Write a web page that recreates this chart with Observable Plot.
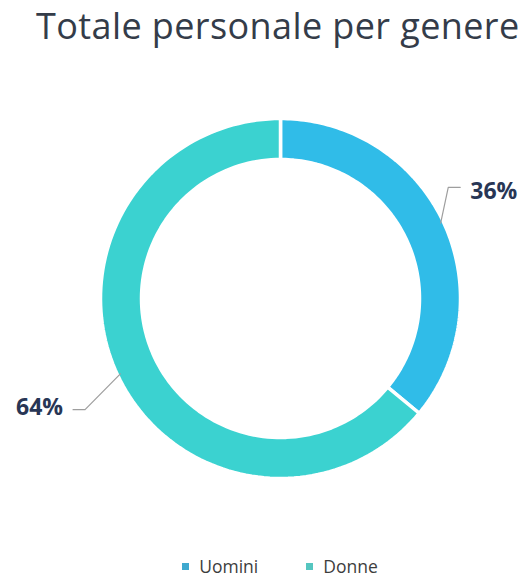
<!DOCTYPE html>
<html><head><meta charset="utf-8">
<script src="https://cdn.jsdelivr.net/npm/d3@7"></script>
<script src="https://cdn.jsdelivr.net/npm/@observablehq/plot@0.6"></script>
<style>
body{margin:0;background:#fff;width:528px;height:585px;overflow:hidden;font-family:"Open Sans",sans-serif;}
#title{position:absolute;left:36px;top:1px;font-size:36px;font-weight:500;color:#343c49;white-space:nowrap;letter-spacing:0.4px;}
#chart{position:absolute;left:0;top:70px;}
#legend{position:absolute;left:0;top:554px;width:528px;text-align:center;font-size:17.5px;color:#3d3d3d;padding-left:32px;box-sizing:border-box;}
#legend span.sw{display:inline-block;width:7px;height:7px;margin-right:10px;vertical-align:middle;position:relative;top:-2px;}
#legend span.it{margin:0 24px;}
</style></head><body>
<div id="title">Totale personale per genere</div>
<div id="chart"></div>
<div id="legend"></div>
<script>
const categories = ["Uomini", "Donne"];
const values = [36, 64];
const labels = ["36%", "64%"];
const colors = ["#30bce8", "#3bd2d0"];
const legendColors = ["#3fa9cf", "#55c6c0"];

const W = 528, H = 460;
const cx = 280, cy = 228; // center within svg (px)
const R = 180, r = 139;

const total = d3.sum(values);
let acc = 0;
const slices = categories.map((c, i) => {
  const a0 = acc / total * 2 * Math.PI;
  acc += values[i];
  const a1 = acc / total * 2 * Math.PI;
  return {c, i, a0, a1, mid: (a0 + a1) / 2};
});

const ringPts = [];
slices.forEach(s => {
  const n = 120;
  for (let k = 0; k <= n; k++) {
    const a = s.a0 + (s.a1 - s.a0) * k / n;
    ringPts.push({c: s.c, x: R * Math.sin(a), y: R * Math.cos(a)});
  }
  for (let k = n; k >= 0; k--) {
    const a = s.a0 + (s.a1 - s.a0) * k / n;
    ringPts.push({c: s.c, x: r * Math.sin(a), y: r * Math.cos(a)});
  }
});

const leaderPts = [];
const labelPts = [];
slices.forEach(s => {
  const sx = Math.sin(s.mid), sy = Math.cos(s.mid);
  const side = sx >= 0 ? 1 : -1;
  const fx = side > 0 ? 1.03 : 1.2;
  const start = {x: (R - 3) * sx, y: (R - 3) * sy};
  const elbow = {x: R * fx * sx, y: R * 1.45 * sy};
  const end = {x: elbow.x + side * 12, y: elbow.y};
  [start, elbow, end].forEach(p => leaderPts.push({c: s.c, ...p}));
  labelPts.push({c: s.c, label: labels[s.i], x: end.x + side * 10, y: end.y, anchor: side > 0 ? "start" : "end"});
});

const chart = Plot.plot({
  width: W, height: H,
  margin: 0,
  x: {domain: [-cx, W - cx], axis: null},
  y: {domain: [cy - H, cy], axis: null},
  color: {domain: categories, range: colors},
  marks: [
    Plot.line(ringPts, {x: "x", y: "y", z: "c", fill: "c", stroke: "white", strokeWidth: 3.5, strokeLinejoin: "miter", curve: "linear-closed"}),
    Plot.line(leaderPts, {x: "x", y: "y", z: "c", stroke: "#9e9e9e", strokeWidth: 1.2}),
    Plot.text(labelPts.filter(d => d.anchor === "start"), {x: "x", y: "y", dy: 4, text: "label", textAnchor: "start", fill: "#283655", fontSize: 23, fontWeight: "bold", fontFamily: "Open Sans", letterSpacing: "-1px"}),
    Plot.text(labelPts.filter(d => d.anchor === "end"), {x: "x", y: "y", dy: -2, text: "label", textAnchor: "end", fill: "#283655", fontSize: 23, fontWeight: "bold", fontFamily: "Open Sans", letterSpacing: "-1px"})
  ]
});
document.getElementById("chart").appendChild(chart);

const leg = document.getElementById("legend");
categories.forEach((c, i) => {
  const it = document.createElement("span");
  it.className = "it";
  const sw = document.createElement("span");
  sw.className = "sw";
  sw.style.background = legendColors[i];
  it.appendChild(sw);
  it.appendChild(document.createTextNode(c));
  leg.appendChild(it);
});
</script>
</body></html>
